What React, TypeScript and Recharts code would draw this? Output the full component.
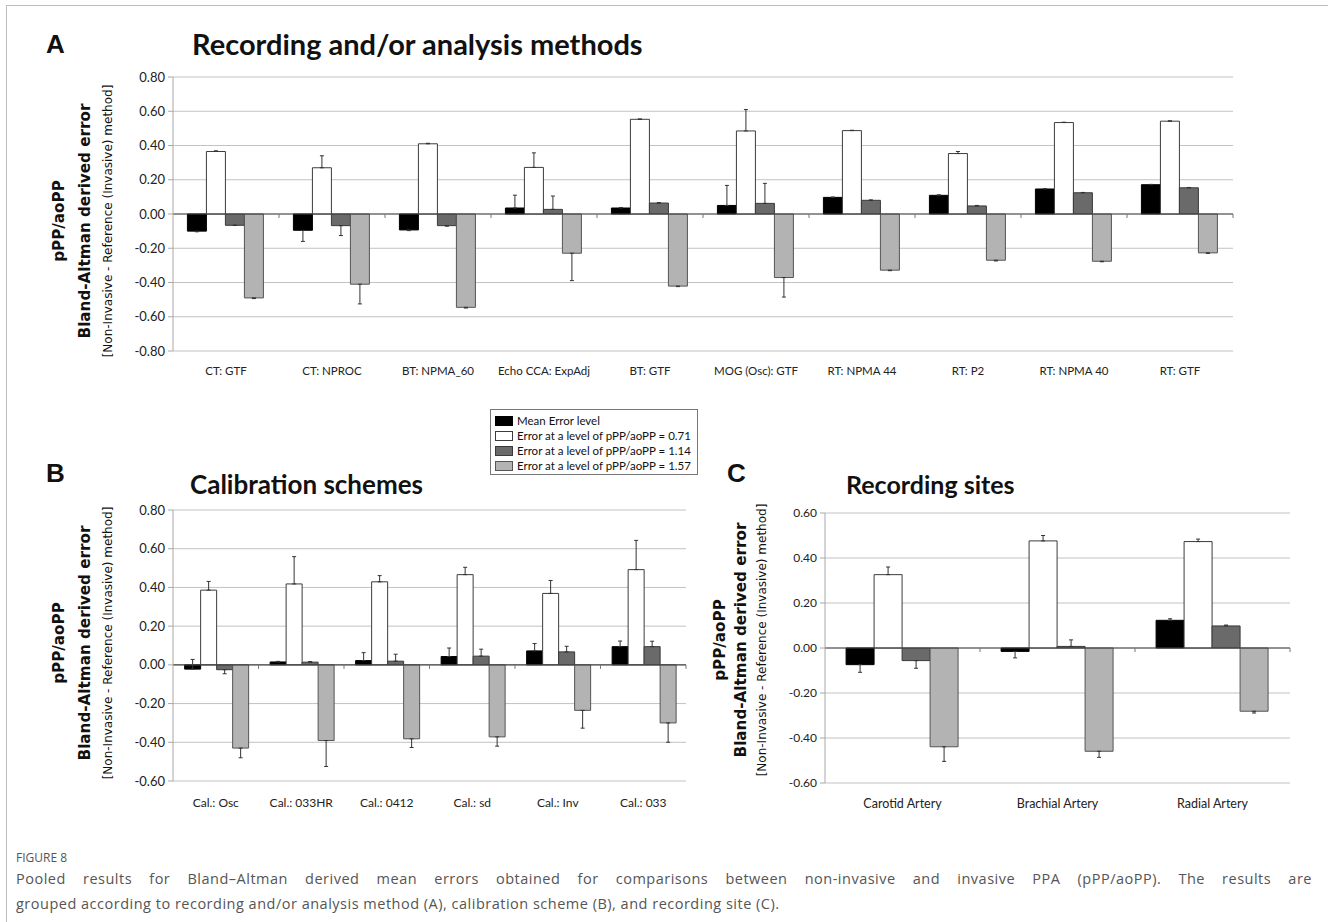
import React from "react";
import { BarChart, Bar, XAxis, YAxis, CartesianGrid, ReferenceLine, ErrorBar } from "recharts";

// Panel A: recording and/or analysis methods
const methodCats = ["CT: GTF", "CT: NPROC", "BT: NPMA_60", "Echo CCA: ExpAdj", "BT: GTF", "MOG (Osc): GTF", "RT: NPMA 44", "RT: P2", "RT: NPMA 40", "RT: GTF"];
const methodMean = [-0.1, -0.095, -0.093, 0.035, 0.035, 0.05, 0.097, 0.109, 0.146, 0.171];
const method071 = [0.365, 0.27, 0.41, 0.272, 0.553, 0.485, 0.487, 0.353, 0.534, 0.542];
const method114 = [-0.066, -0.068, -0.068, 0.027, 0.064, 0.062, 0.08, 0.047, 0.124, 0.153];
const method157 = [-0.49, -0.41, -0.545, -0.229, -0.421, -0.371, -0.328, -0.27, -0.276, -0.227];
// signed error: + goes up, - goes down
const methodMeanErr = [-0.004, -0.065, -0.004, 0.075, 0.003, 0.117, 0.002, 0.003, 0.002, 0.002];
const method071Err = [0.004, 0.07, 0.003, 0.085, 0.002, 0.125, 0.002, 0.012, 0.002, 0.002];
const method114Err = [0, -0.058, -0.003, 0.078, 0.002, 0.117, 0.002, 0.003, 0.002, 0.002];
const method157Err = [-0.004, -0.115, -0.004, -0.16, -0.003, -0.114, -0.003, -0.004, -0.003, -0.003];

// Panel B: calibration schemes
const calCats = ["Cal.: Osc", "Cal.: 033HR", "Cal.: 0412", "Cal.: sd", "Cal.: Inv", "Cal.: 033"];
const calMean = [-0.022, 0.015, 0.022, 0.043, 0.072, 0.094];
const cal071 = [0.386, 0.418, 0.429, 0.466, 0.369, 0.492];
const cal114 = [-0.025, 0.014, 0.019, 0.045, 0.067, 0.094];
const cal157 = [-0.43, -0.391, -0.382, -0.372, -0.235, -0.3];
const calMeanErr = [0.05, 0.003, 0.041, 0.044, 0.038, 0.029];
const cal071Err = [0.045, 0.141, 0.032, 0.038, 0.067, 0.151];
const cal114Err = [-0.021, 0.003, 0.036, 0.036, 0.029, 0.028];
const cal157Err = [-0.05, -0.134, -0.045, -0.048, -0.092, -0.1];

// Panel C: recording sites
const siteCats = ["Carotid Artery", "Brachial Artery", "Radial Artery"];
const siteMean = [-0.074, -0.015, 0.123];
const site071 = [0.326, 0.476, 0.473];
const site114 = [-0.056, 0.007, 0.098];
const site157 = [-0.439, -0.459, -0.281];
const siteMeanErr = [-0.034, -0.029, 0.007];
const site071Err = [0.034, 0.024, 0.011];
const site114Err = [-0.034, 0.029, 0.004];
const site157Err = [-0.065, -0.027, -0.008];

const ticksA = [-0.8, -0.6, -0.4, -0.2, 0, 0.2, 0.4, 0.6, 0.8];
const ticksB = [-0.6, -0.4, -0.2, 0, 0.2, 0.4, 0.6, 0.8];
const ticksC = [-0.6, -0.4, -0.2, 0, 0.2, 0.4, 0.6];

const legendNames = [
  "Mean Error level",
  "Error at a level of pPP/aoPP = 0.71",
  "Error at a level of pPP/aoPP = 1.14",
  "Error at a level of pPP/aoPP = 1.57",
];

const series = [
  { key: "mean", fill: "#000000", stroke: "#000000" },
  { key: "l071", fill: "#ffffff", stroke: "#3c3c3c" },
  { key: "l114", fill: "#6a6a6a", stroke: "#3a3a3a" },
  { key: "l157", fill: "#b3b3b3", stroke: "#555555" },
];

const toErr = (e: number) => (e >= 0 ? [0, e] : [-e, 0]);

function buildRows(cats: string[], vals: number[][], errs: number[][]) {
  return cats.map((cat, i) => ({
    cat,
    mean: vals[0][i],
    l071: vals[1][i],
    l114: vals[2][i],
    l157: vals[3][i],
    meanErr: toErr(errs[0][i]),
    l071Err: toErr(errs[1][i]),
    l114Err: toErr(errs[2][i]),
    l157Err: toErr(errs[3][i]),
  }));
}

const rowsA = buildRows(methodCats, [methodMean, method071, method114, method157], [methodMeanErr, method071Err, method114Err, method157Err]);
const rowsB = buildRows(calCats, [calMean, cal071, cal114, cal157], [calMeanErr, cal071Err, cal114Err, cal157Err]);
const rowsC = buildRows(siteCats, [siteMean, site071, site114, site157], [siteMeanErr, site071Err, site114Err, site157Err]);

const tickFont = "Lato, 'Open Sans', sans-serif";

// zero line with small Excel-style tick marks between categories
function zeroLine(count: number) {
  return (p: any) => {
    const { x1, x2, y1 } = p;
    const step = (x2 - x1) / count;
    const marks = [];
    for (let i = 1; i <= count; i++) {
      marks.push(<line key={i} x1={x1 + step * i} x2={x1 + step * i} y1={y1} y2={y1 + 4} stroke="#777" />);
    }
    return (
      <g>
        <line x1={x1} x2={x2} y1={y1} y2={y1} stroke="#444" strokeWidth={1.2} />
        {marks}
      </g>
    );
  };
}

function Panel({ rows, width, height, top, left, yWidth, ticks, xFont, xMargin, yFont }: any) {
  return (
    <div style={{ position: "absolute", left, top }}>
      <BarChart
        width={width}
        height={height}
        data={rows}
        margin={{ top: 12, right: 4, bottom: 0, left: 0 }}
        barCategoryGap="13.6%"
        barGap={0}
      >
        <CartesianGrid vertical={false} stroke="#c2c2c2" />
        <XAxis
          dataKey="cat"
          axisLine={false}
          tickLine={false}
          tickSize={0}
          tickMargin={xMargin}
          interval={0}
          tick={{ fill: "#222", fontSize: xFont, fontFamily: tickFont }}
        />
        <YAxis
          type="number"
          domain={[ticks[0], ticks[ticks.length - 1]]}
          ticks={ticks}
          width={yWidth}
          tickFormatter={(v: number) => v.toFixed(2)}
          axisLine={{ stroke: "#a8a8a8" }}
          tickLine={{ stroke: "#a8a8a8" }}
          tickSize={5}
          tickMargin={3}
          tick={{ fill: "#222", fontSize: yFont, fontFamily: tickFont }}
        />
        {series.map((s) => (
          <Bar key={s.key} dataKey={s.key} fill={s.fill} stroke={s.stroke} strokeWidth={1} isAnimationActive={false}>
            <ErrorBar dataKey={s.key + "Err"} width={2} stroke="#333" strokeWidth={1} direction="y" />
          </Bar>
        ))}
        <ReferenceLine y={0} shape={zeroLine(rows.length)} />
      </BarChart>
    </div>
  );
}

function YLabel({ x, y, g1, g2 }: { x: number; y: number; g1: number; g2: number }) {
  return (
    <g transform={`translate(${x},${y}) rotate(-90)`}>
      <text x={0} y={0} textAnchor="middle" fontFamily="'DejaVu Sans', sans-serif" fontWeight="bold" fontSize={15.2} fill="#111">
        pPP/aoPP
      </text>
      <text x={0} y={g1} textAnchor="middle" fontFamily="'DejaVu Sans', sans-serif" fontWeight="bold" fontSize={15.2} fill="#111">
        Bland-Altman derived error
      </text>
      <text x={0} y={g2} textAnchor="middle" fontFamily="'DejaVu Sans', sans-serif" fontSize={12} fill="#111">
        [Non-Invasive - Reference (Invasive) method]
      </text>
    </g>
  );
}

export default function App() {
  const titleFont = "Lato, 'Open Sans', sans-serif";
  const letterFont = "'Liberation Sans', Arial, sans-serif";
  const captionStyle = { fontFamily: "'Open Sans', sans-serif", fontSize: 14.5, lineHeight: "25px", color: "#555", width: 1296, letterSpacing: "0.5px" };
  return (
    <div style={{ position: "relative", width: 1328, height: 922, background: "#fff", overflow: "hidden" }}>
      <style>{"body{margin:0}"}</style>
      <div style={{ position: "absolute", left: 6, top: 5, width: 1322, height: 917, borderLeft: "1px solid #bcbcbc", borderTop: "1px solid #bcbcbc" }} />

      <Panel rows={rowsA} width={1136} height={316} top={65} left={101} yWidth={72} ticks={ticksA} xFont={11.5} xMargin={16} yFont={13} />
      <Panel rows={rowsB} width={589} height={313} top={498} left={101} yWidth={72} ticks={ticksB} xFont={12} xMargin={17} yFont={13} />
      <Panel rows={rowsC} width={529} height={312} top={501} left={765} yWidth={60} ticks={ticksC} xFont={12.5} xMargin={16} yFont={12} />

      <svg width={1328} height={922} style={{ position: "absolute", left: 0, top: 0, pointerEvents: "none" }}>
        <text x={46} y={53} fontFamily={letterFont} fontWeight="bold" fontSize={26} fill="#111">A</text>
        <text x={192} y={55} fontFamily={titleFont} fontWeight="bold" fontSize={29} fill="#111">Recording and/or analysis methods</text>
        <text x={46} y={482} fontFamily={letterFont} fontWeight="bold" fontSize={26} fill="#111">B</text>
        <text x={190} y={494} fontFamily={titleFont} fontWeight="bold" fontSize={26} fill="#111">Calibration schemes</text>
        <text x={727} y={482} fontFamily={letterFont} fontWeight="bold" fontSize={26} fill="#111">C</text>
        <text x={846} y={494} fontFamily={titleFont} fontWeight="bold" fontSize={25} fill="#111">Recording sites</text>

        <YLabel x={64} y={221} g1={25.5} g2={47.5} />
        <YLabel x={64} y={643} g1={25.5} g2={47.5} />
        <YLabel x={725} y={640} g1={20.5} g2={40.5} />

        <rect x={490.5} y={409.5} width={207} height={65} fill="#fff" stroke="#777" />
        {legendNames.map((name, i) => (
          <g key={name}>
            <rect x={495.5} y={416.5 + i * 15} width={17} height={9} fill={series[i].fill} stroke={series[i].stroke} />
            <text x={517} y={425 + i * 15} fontFamily={tickFont} fontSize={11.5} fill="#111">{name}</text>
          </g>
        ))}
      </svg>

      <div style={{ position: "absolute", left: 16, top: 849, fontFamily: "'Open Sans', sans-serif", fontSize: 12, color: "#555" }}>
        FIGURE 8
      </div>
      <div style={{ ...captionStyle, position: "absolute", left: 16, top: 866, textAlign: "justify", textAlignLast: "justify" as any }}>
        Pooled results for Bland–Altman derived mean errors obtained for comparisons between non-invasive and invasive PPA (pPP/aoPP). The results are
      </div>
      <div style={{ ...captionStyle, position: "absolute", left: 16, top: 891 }}>
        grouped according to recording and/or analysis method (A), calibration scheme (B), and recording site (C).
      </div>
    </div>
  );
}
